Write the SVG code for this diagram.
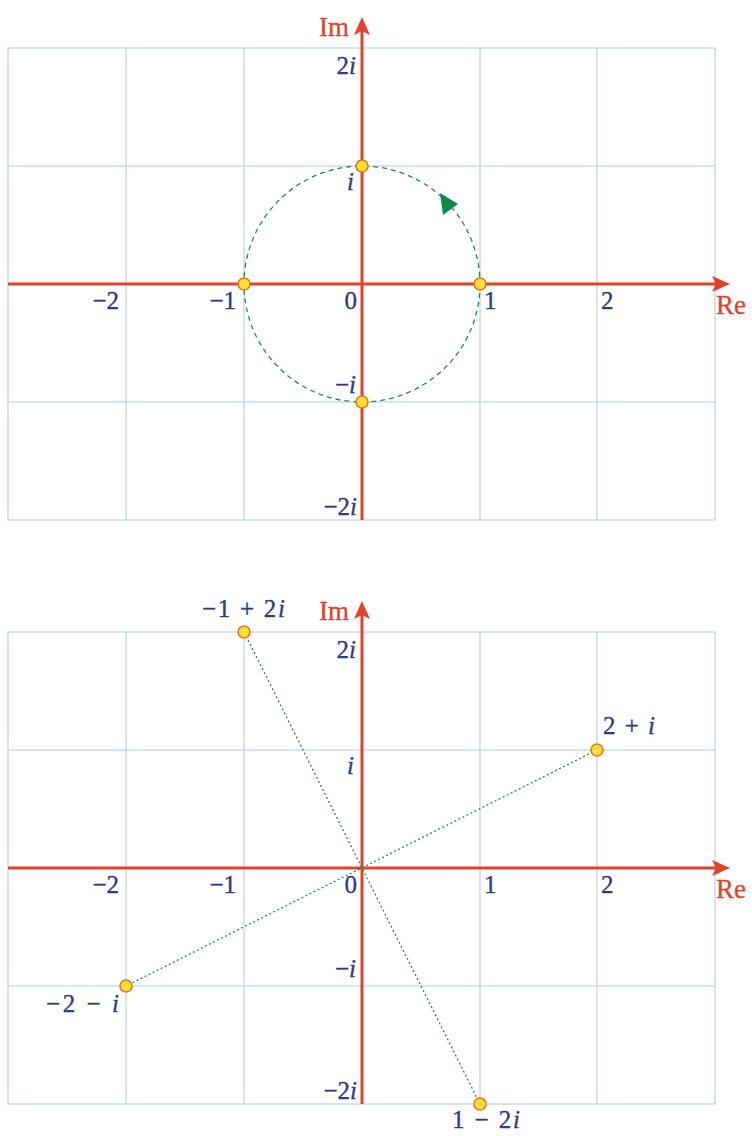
<svg xmlns="http://www.w3.org/2000/svg" width="752" height="1136" viewBox="0 0 752 1136">
<style>
.grid{stroke:#A9C9E6;stroke-width:1;fill:none}
.axis{stroke:#E2412B;stroke-width:3;fill:none}
.ah{fill:#E2412B}
.lab{font-family:"Liberation Serif","Times New Roman",serif;font-size:25px;fill:#2E3A8C;stroke:#2E3A8C;stroke-width:0.35}
.ax{font-family:"Liberation Serif","Times New Roman",serif;font-size:27px;fill:#E2412B;stroke:#E2412B;stroke-width:0.3}
.it{font-style:italic}
.dot{fill:#FFE03A;stroke:#E8731E;stroke-width:1.6}
.circ{stroke:#1E8C4E;stroke-width:1.3;stroke-dasharray:5 4;fill:none}
.dotl{stroke:#1E8C4E;stroke-width:1.3;stroke-dasharray:2 2.5;fill:none}
</style>
<rect width="752" height="1136" fill="#fff"/>
<g id="plane1">
<g id="grid1" class="grid">
<rect x="8" y="48" width="707" height="472"/>
<path d="M126 48V520M244 48V520M480 48V520M597 48V520M8 166H715M8 402H715"/>
</g>
<g id="axes1">
<path class="axis" d="M8 284H716M362 520V30"/>
<polygon class="ah" points="730,284 712,276 716,284 712,292"/>
<polygon class="ah" points="362,17 354,35 362,31 370,35"/>
<text class="ax" x="319" y="36">Im</text>
<text class="ax" x="716" y="314">Re</text>
</g>
<g id="ticks1" class="lab">
<text x="119" y="309" text-anchor="end">−2</text>
<text x="236" y="309" text-anchor="end">−1</text>
<text x="357" y="309" text-anchor="end">0</text>
<text x="484" y="309">1</text>
<text x="601" y="309">2</text>
<text x="356" y="74" text-anchor="end">2<tspan class="it">i</tspan></text>
<text x="354" y="190" text-anchor="end" class="it">i</text>
<text x="356" y="393" text-anchor="end">−<tspan class="it">i</tspan></text>
<text x="357" y="515" text-anchor="end">−2<tspan class="it">i</tspan></text>
</g>
<g id="connectors1">
<circle class="circ" cx="362" cy="284" r="118"/>
<polygon points="440,193 458,204 443,215" fill="#0E8A4E"/>
</g>
<g id="p_i"><circle class="dot" cx="362" cy="166" r="6"/></g>
<g id="p_m1"><circle class="dot" cx="244" cy="284" r="6"/></g>
<g id="p_1"><circle class="dot" cx="480" cy="284" r="6"/></g>
<g id="p_mi"><circle class="dot" cx="362" cy="402" r="6"/></g>
</g>
<g id="plane2">
<g id="grid2" class="grid">
<rect x="8" y="632" width="707" height="472"/>
<path d="M126 632V1104M244 632V1104M480 632V1104M597 632V1104M8 750H715M8 986H715"/>
</g>
<g id="axes2">
<path class="axis" d="M8 868H716M362 1104V614"/>
<polygon class="ah" points="730,868 712,860 716,868 712,876"/>
<polygon class="ah" points="362,601 354,619 362,615 370,619"/>
<text class="ax" x="319" y="620">Im</text>
<text class="ax" x="716" y="898">Re</text>
</g>
<g id="ticks2" class="lab">
<text x="119" y="893" text-anchor="end">−2</text>
<text x="236" y="893" text-anchor="end">−1</text>
<text x="357" y="893" text-anchor="end">0</text>
<text x="484" y="893">1</text>
<text x="601" y="893">2</text>
<text x="356" y="658" text-anchor="end">2<tspan class="it">i</tspan></text>
<text x="354" y="774" text-anchor="end" class="it">i</text>
<text x="356" y="977" text-anchor="end">−<tspan class="it">i</tspan></text>
<text x="357" y="1099" text-anchor="end">−2<tspan class="it">i</tspan></text>
</g>
<g id="connectors2">
<path class="dotl" d="M244 632L480 1104M597 750L126 986"/>
</g>
<g id="z1"><circle class="dot" cx="244" cy="632" r="6"/><text class="lab" x="202" y="617" textLength="83" lengthAdjust="spacing">−1 + 2<tspan class="it">i</tspan></text></g>
<g id="z2"><circle class="dot" cx="597" cy="750" r="6"/><text class="lab" x="603" y="734" textLength="52" lengthAdjust="spacing">2 + <tspan class="it">i</tspan></text></g>
<g id="z3"><circle class="dot" cx="126" cy="986" r="6"/><text class="lab" x="46" y="1012" textLength="73" lengthAdjust="spacing">−2 − <tspan class="it">i</tspan></text></g>
<g id="z4"><circle class="dot" cx="480" cy="1104" r="6"/><text class="lab" x="452" y="1128" textLength="68" lengthAdjust="spacing">1 − 2<tspan class="it">i</tspan></text></g>
</g>
</svg>
